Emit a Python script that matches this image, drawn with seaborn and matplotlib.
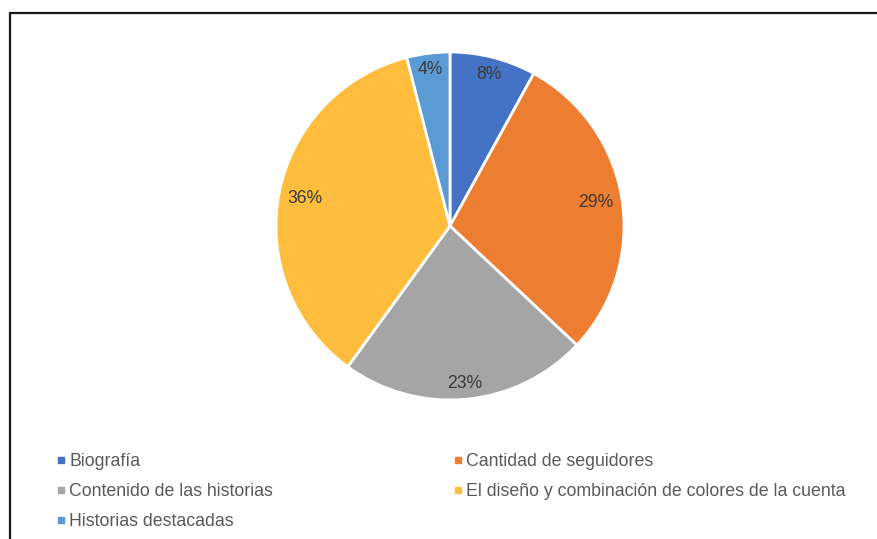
import matplotlib
matplotlib.use("Agg")
import numpy as np
import matplotlib.pyplot as plt
from matplotlib.lines import Line2D
import seaborn as sns

categories = [
    "Biografía",
    "Cantidad de seguidores",
    "Contenido de las historias",
    "El diseño y combinación de colores de la cuenta",
    "Historias destacadas",
]
shares = [8, 29, 23, 36, 4]
colors = ["#4472C4", "#ED7D31", "#A5A5A5", "#FFBD3D", "#5B9BD5"]

sns.set_theme(style="white")
plt.rcParams["font.family"] = ["Liberation Sans", "DejaVu Sans"]

W, H = 877, 539
fig = plt.figure(figsize=(W / 100, H / 100), dpi=100)

# pie area: centre and radius in pixels
cx, cy, r = 450, 226, 174
ax = fig.add_axes([(cx - r) / W, 1 - (cy + r) / H, 2 * r / W, 2 * r / H])
palette = sns.color_palette(colors)

wedges, texts, autotexts = ax.pie(
    shares,
    colors=palette,
    startangle=90,
    counterclock=False,
    autopct=lambda p: f"{p:.0f}%",
    pctdistance=0.88,
    wedgeprops=dict(edgecolor="white", linewidth=2),
    textprops=dict(color="#3a3a3a", fontsize=12.7),
)
ax.set_xlim(-1, 1)
ax.set_ylim(-1, 1)
ax.set_aspect("equal")
ax.axis("off")

# place percentage labels at the inside end of each wedge
fig.canvas.draw()
renderer = fig.canvas.get_renderer()
pad_px = 8
for w, t in zip(wedges, autotexts):
    theta = np.deg2rad((w.theta1 + w.theta2) / 2)
    bb = t.get_window_extent(renderer)
    hw, hh = bb.width / 2, bb.height / 2 * 0.75
    ext = abs(np.cos(theta)) * hw + abs(np.sin(theta)) * hh
    dist = (r - pad_px - ext) / r
    t.set_position((dist * np.cos(theta), dist * np.sin(theta)))

# legend: two columns, filled row by row
handles = [
    Line2D([], [], marker="s", linestyle="", color=c, markersize=4.2)
    for c in palette
]
order = [0, 2, 4, 1, 3]
fig.legend(
    [handles[i] for i in order],
    [categories[i] for i in order],
    ncol=2,
    loc="upper left",
    bbox_to_anchor=(57 / W, 1 - 453 / H),
    frameon=False,
    fontsize=12.8,
    labelcolor="#595959",
    handlelength=0.45,
    handletextpad=0.25,
    labelspacing=0.73,
    columnspacing=10.15,
    borderpad=0,
    borderaxespad=0,
)

# chart border (top and left edges visible)
top = 1 - 12.5 / H
left = 9.5 / W
fig.add_artist(Line2D([left, 1.01], [top, top], color="#1a1a1a", lw=1.6,
                      transform=fig.transFigure))
fig.add_artist(Line2D([left, left], [top, -0.01], color="#1a1a1a", lw=1.6,
                      transform=fig.transFigure))

fig.savefig("out.png", dpi=100, facecolor="white")
